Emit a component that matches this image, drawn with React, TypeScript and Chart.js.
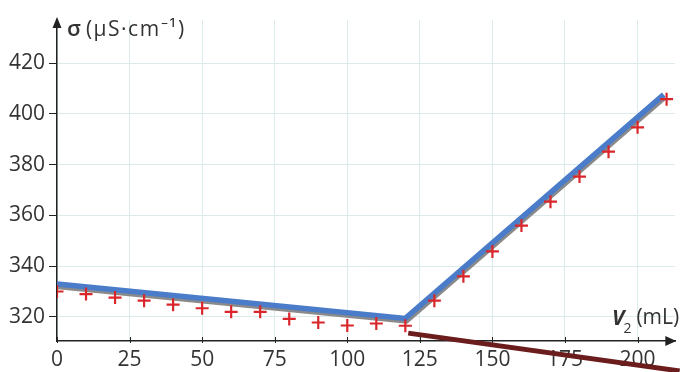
import { useEffect, useRef } from 'react';
import { Chart, registerables } from 'chart.js';

Chart.register(...registerables);

// Measured conductivity (red crosses)
const volumes = [0, 10, 20, 30, 40, 50, 60, 70, 80, 90, 100, 110, 120, 130, 140, 150, 160, 170, 180, 190, 200, 210];
const conductivity = [330, 329, 327.6, 326.4, 324.8, 323.4, 322, 322, 319.2, 317.8, 316.6, 317.4, 316.5, 326.4, 336, 345.8, 356, 365.4, 375.3, 385.1, 394.7, 405.8];

// Fitted broken line (blue)
const fitVolumes = [0, 120, 209];
const fitConductivity = [333, 319.4, 407.6];

// Extension line (dark red)
const tangentVolumes = [121, 214.5];
const tangentConductivity = [313.6, 298.7];

const xTicks = [0, 25, 50, 75, 100, 125, 150, 175, 200];
const yTicks = [320, 340, 360, 380, 400, 420];

const FONT = '"Open Sans", "Liberation Sans", sans-serif';
const TEXT = '#333333';
const AXIS = '#222222';
const GRID = '#dbeaea';

const decorPlugin = {
  id: 'decor',
  beforeDatasetDraw(chart: any, args: any) {
    if (args.index === 1) {
      const ctx = chart.ctx;
      ctx.save();
      ctx.shadowColor = '#8a8a8a';
      ctx.shadowOffsetX = 1;
      ctx.shadowOffsetY = 2.5;
      ctx.shadowBlur = 0;
    }
  },
  afterDatasetDraw(chart: any, args: any) {
    if (args.index === 1) chart.ctx.restore();
  },
  afterDraw(chart: any) {
    const { ctx, chartArea } = chart;
    const { left, right, top, bottom } = chartArea;
    const xs = chart.scales.x;
    ctx.save();
    ctx.fillStyle = AXIS;
    ctx.strokeStyle = AXIS;
    // y arrow
    ctx.beginPath();
    ctx.moveTo(left, top - 3);
    ctx.lineTo(left - 4.5, top + 8);
    ctx.lineTo(left + 4.5, top + 8);
    ctx.closePath();
    ctx.fill();
    // x arrow
    ctx.beginPath();
    ctx.moveTo(right + 1, bottom);
    ctx.lineTo(right - 10, bottom - 5);
    ctx.lineTo(right - 10, bottom + 5);
    ctx.closePath();
    ctx.fill();
    // x tick marks
    ctx.lineWidth = 1;
    for (const v of xTicks) {
      const px = Math.round(xs.getPixelForValue(v)) + 0.5;
      ctx.beginPath();
      ctx.moveTo(px, bottom - 4);
      ctx.lineTo(px, bottom + 2);
      ctx.stroke();
    }
    // y title
    ctx.fillStyle = TEXT;
    ctx.textBaseline = 'alphabetic';
    ctx.textAlign = 'left';
    let x = left + 10;
    ctx.font = `600 22px ${FONT}`;
    ctx.fillText('σ', x, 36);
    x += ctx.measureText('σ').width + 5;
    ctx.font = `21px ${FONT}`;
    (ctx as any).letterSpacing = '1.5px';
    ctx.fillText('(µS·cm⁻¹)', x, 36);
    (ctx as any).letterSpacing = '0px';
    // x title
    let tx = 612;
    ctx.font = `italic bold 21px ${FONT}`;
    ctx.fillText('V', tx, 325);
    tx += ctx.measureText('V').width - 1;
    ctx.font = `14px ${FONT}`;
    ctx.fillText('2', tx, 333);
    tx += ctx.measureText('2').width + 5;
    ctx.font = `21px ${FONT}`;
    ctx.fillText('(mL)', tx, 324);
    ctx.restore();
  },
};

export default function App() {
  const ref = useRef<HTMLCanvasElement | null>(null);

  useEffect(() => {
    document.body.style.margin = '0';
    const canvas = ref.current;
    if (!canvas) return;
    const chart = new Chart(canvas, {
      type: 'scatter',
      data: {
        datasets: [
          {
            label: 'σ',
            data: volumes.map((v, i) => ({ x: v, y: conductivity[i] })),
            pointStyle: 'cross',
            pointRadius: 6.5,
            pointBorderWidth: 2.2,
            borderColor: '#d9262b',
            backgroundColor: '#d9262b',
            showLine: false,
            order: 0,
          },
          {
            label: 'fit',
            data: fitVolumes.map((v, i) => ({ x: v, y: fitConductivity[i] })),
            showLine: true,
            borderColor: '#4a7cc9',
            borderWidth: 5.5,
            pointRadius: 0,
            tension: 0,
            borderJoinStyle: 'miter',
            order: 1,
          },
          {
            label: 'ext',
            data: tangentVolumes.map((v, i) => ({ x: v, y: tangentConductivity[i] })),
            showLine: true,
            borderColor: '#6b1c1c',
            borderWidth: 5,
            pointRadius: 0,
            clip: false,
            order: 2,
          },
        ],
      } as any,
      options: {
        responsive: false,
        animation: false,
        layout: { padding: { top: 20, right: 3, left: 0, bottom: 0 } },
        plugins: { legend: { display: false }, tooltip: { enabled: false } },
        scales: {
          x: {
            type: 'linear',
            min: 0,
            max: 213,
            afterBuildTicks: (s: any) => {
              s.ticks = xTicks.map((v) => ({ value: v }));
            },
            afterFit: (s: any) => {
              s.height = 31;
            },
            grid: { color: GRID, drawTicks: false },
            border: { color: AXIS, width: 1.5 },
            ticks: {
              padding: 6,
              color: TEXT,
              font: { family: FONT, size: 21 },
              maxRotation: 0,
              autoSkip: false,
            },
          },
          y: {
            type: 'linear',
            min: 310.5,
            max: 437,
            afterBuildTicks: (s: any) => {
              s.ticks = yTicks.map((v) => ({ value: v }));
            },
            afterFit: (s: any) => {
              s.width = 57;
            },
            grid: { color: GRID, tickColor: AXIS, tickLength: 8 },
            border: { color: AXIS, width: 1.5 },
            ticks: {
              padding: 4,
              color: TEXT,
              font: { family: FONT, size: 21 },
              autoSkip: false,
            },
          },
        },
      } as any,
      plugins: [decorPlugin],
    });
    return () => chart.destroy();
  }, []);

  return (
    <div style={{ width: 684, height: 372 }}>
      <canvas ref={ref} width={684} height={372} style={{ width: 684, height: 372, display: 'block' }} />
    </div>
  );
}
